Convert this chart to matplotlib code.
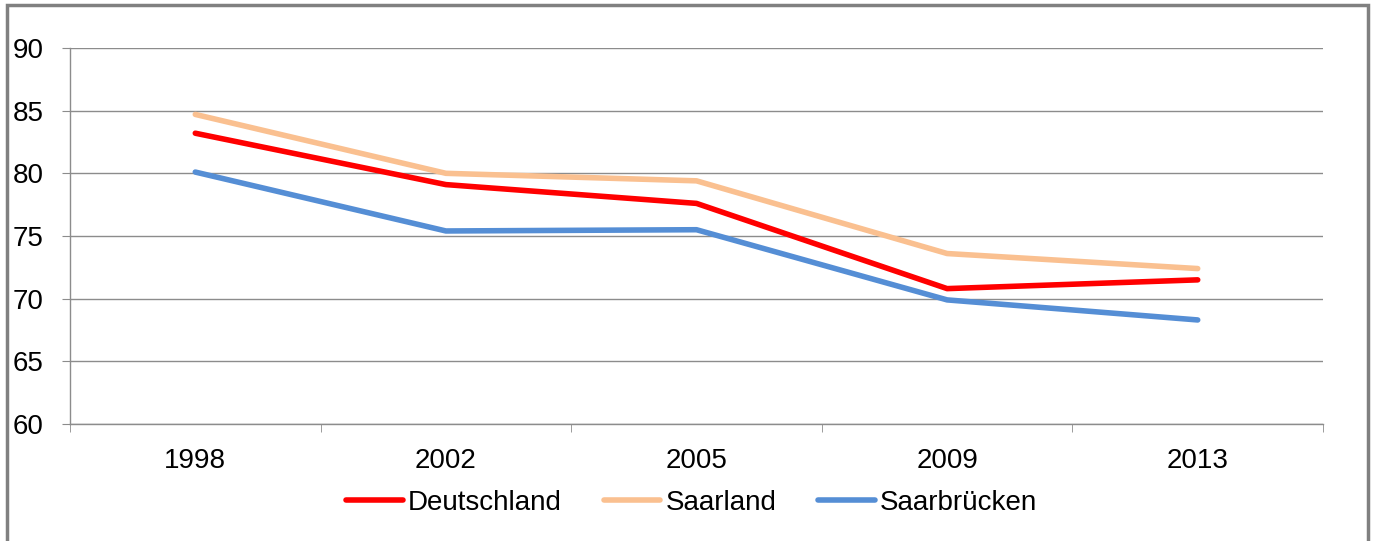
import matplotlib.pyplot as plt
from matplotlib.patches import Rectangle

plt.rcParams['font.family'] = ['Liberation Sans', 'DejaVu Sans']

# Daten
jahre = ["1998", "2002", "2005", "2009", "2013"]
deutschland = [83.2, 79.1, 77.6, 70.8, 71.5]
saarland = [84.7, 80.0, 79.4, 73.6, 72.4]
saarbruecken = [80.1, 75.4, 75.5, 69.9, 68.3]

grau = "#8c8c8c"

fig = plt.figure(figsize=(13.75, 5.41), dpi=100)
ax = fig.add_axes([0.0509, 0.2163, 0.9113, 0.6950])

x = range(len(jahre))
ax.plot(x, deutschland, color="#ff0000", lw=4, label="Deutschland", solid_capstyle="round")
ax.plot(x, saarland, color="#fac090", lw=4, label="Saarland", solid_capstyle="round")
ax.plot(x, saarbruecken, color="#558ed5", lw=4, label="Saarbrücken", solid_capstyle="round")

ax.set_xlim(-0.5, len(jahre) - 0.5)
ax.set_ylim(60, 90)
ax.set_yticks(range(60, 91, 5))
ax.set_xticks(list(x))
ax.set_xticklabels(jahre)
ax.set_xticks([i - 0.5 for i in range(len(jahre) + 1)], minor=True)

ax.grid(axis="y", color=grau, lw=1)
ax.set_axisbelow(True)
for s in ["top", "right"]:
    ax.spines[s].set_visible(False)
for s in ["left", "bottom"]:
    ax.spines[s].set_color(grau)
    ax.spines[s].set_linewidth(1)

ax.tick_params(axis="x", which="major", length=0, labelsize=20, pad=17)
ax.tick_params(axis="x", which="minor", length=6, color=grau, direction="out")
ax.tick_params(axis="y", length=6, color=grau, labelsize=20, pad=13)

ax.legend(loc="center", bbox_to_anchor=(0.503, 0.071), bbox_transform=fig.transFigure,
          ncol=3, frameon=False, fontsize=20, handlelength=2.05, handletextpad=0.18,
          columnspacing=1.5, borderpad=0)

# Rahmen um das Diagramm
fig.patches.append(Rectangle((0.005, -0.05), 0.99, 1.04, transform=fig.transFigure,
                             fill=False, edgecolor="#808080", lw=2.5))

fig.savefig("out.png", dpi=100)
